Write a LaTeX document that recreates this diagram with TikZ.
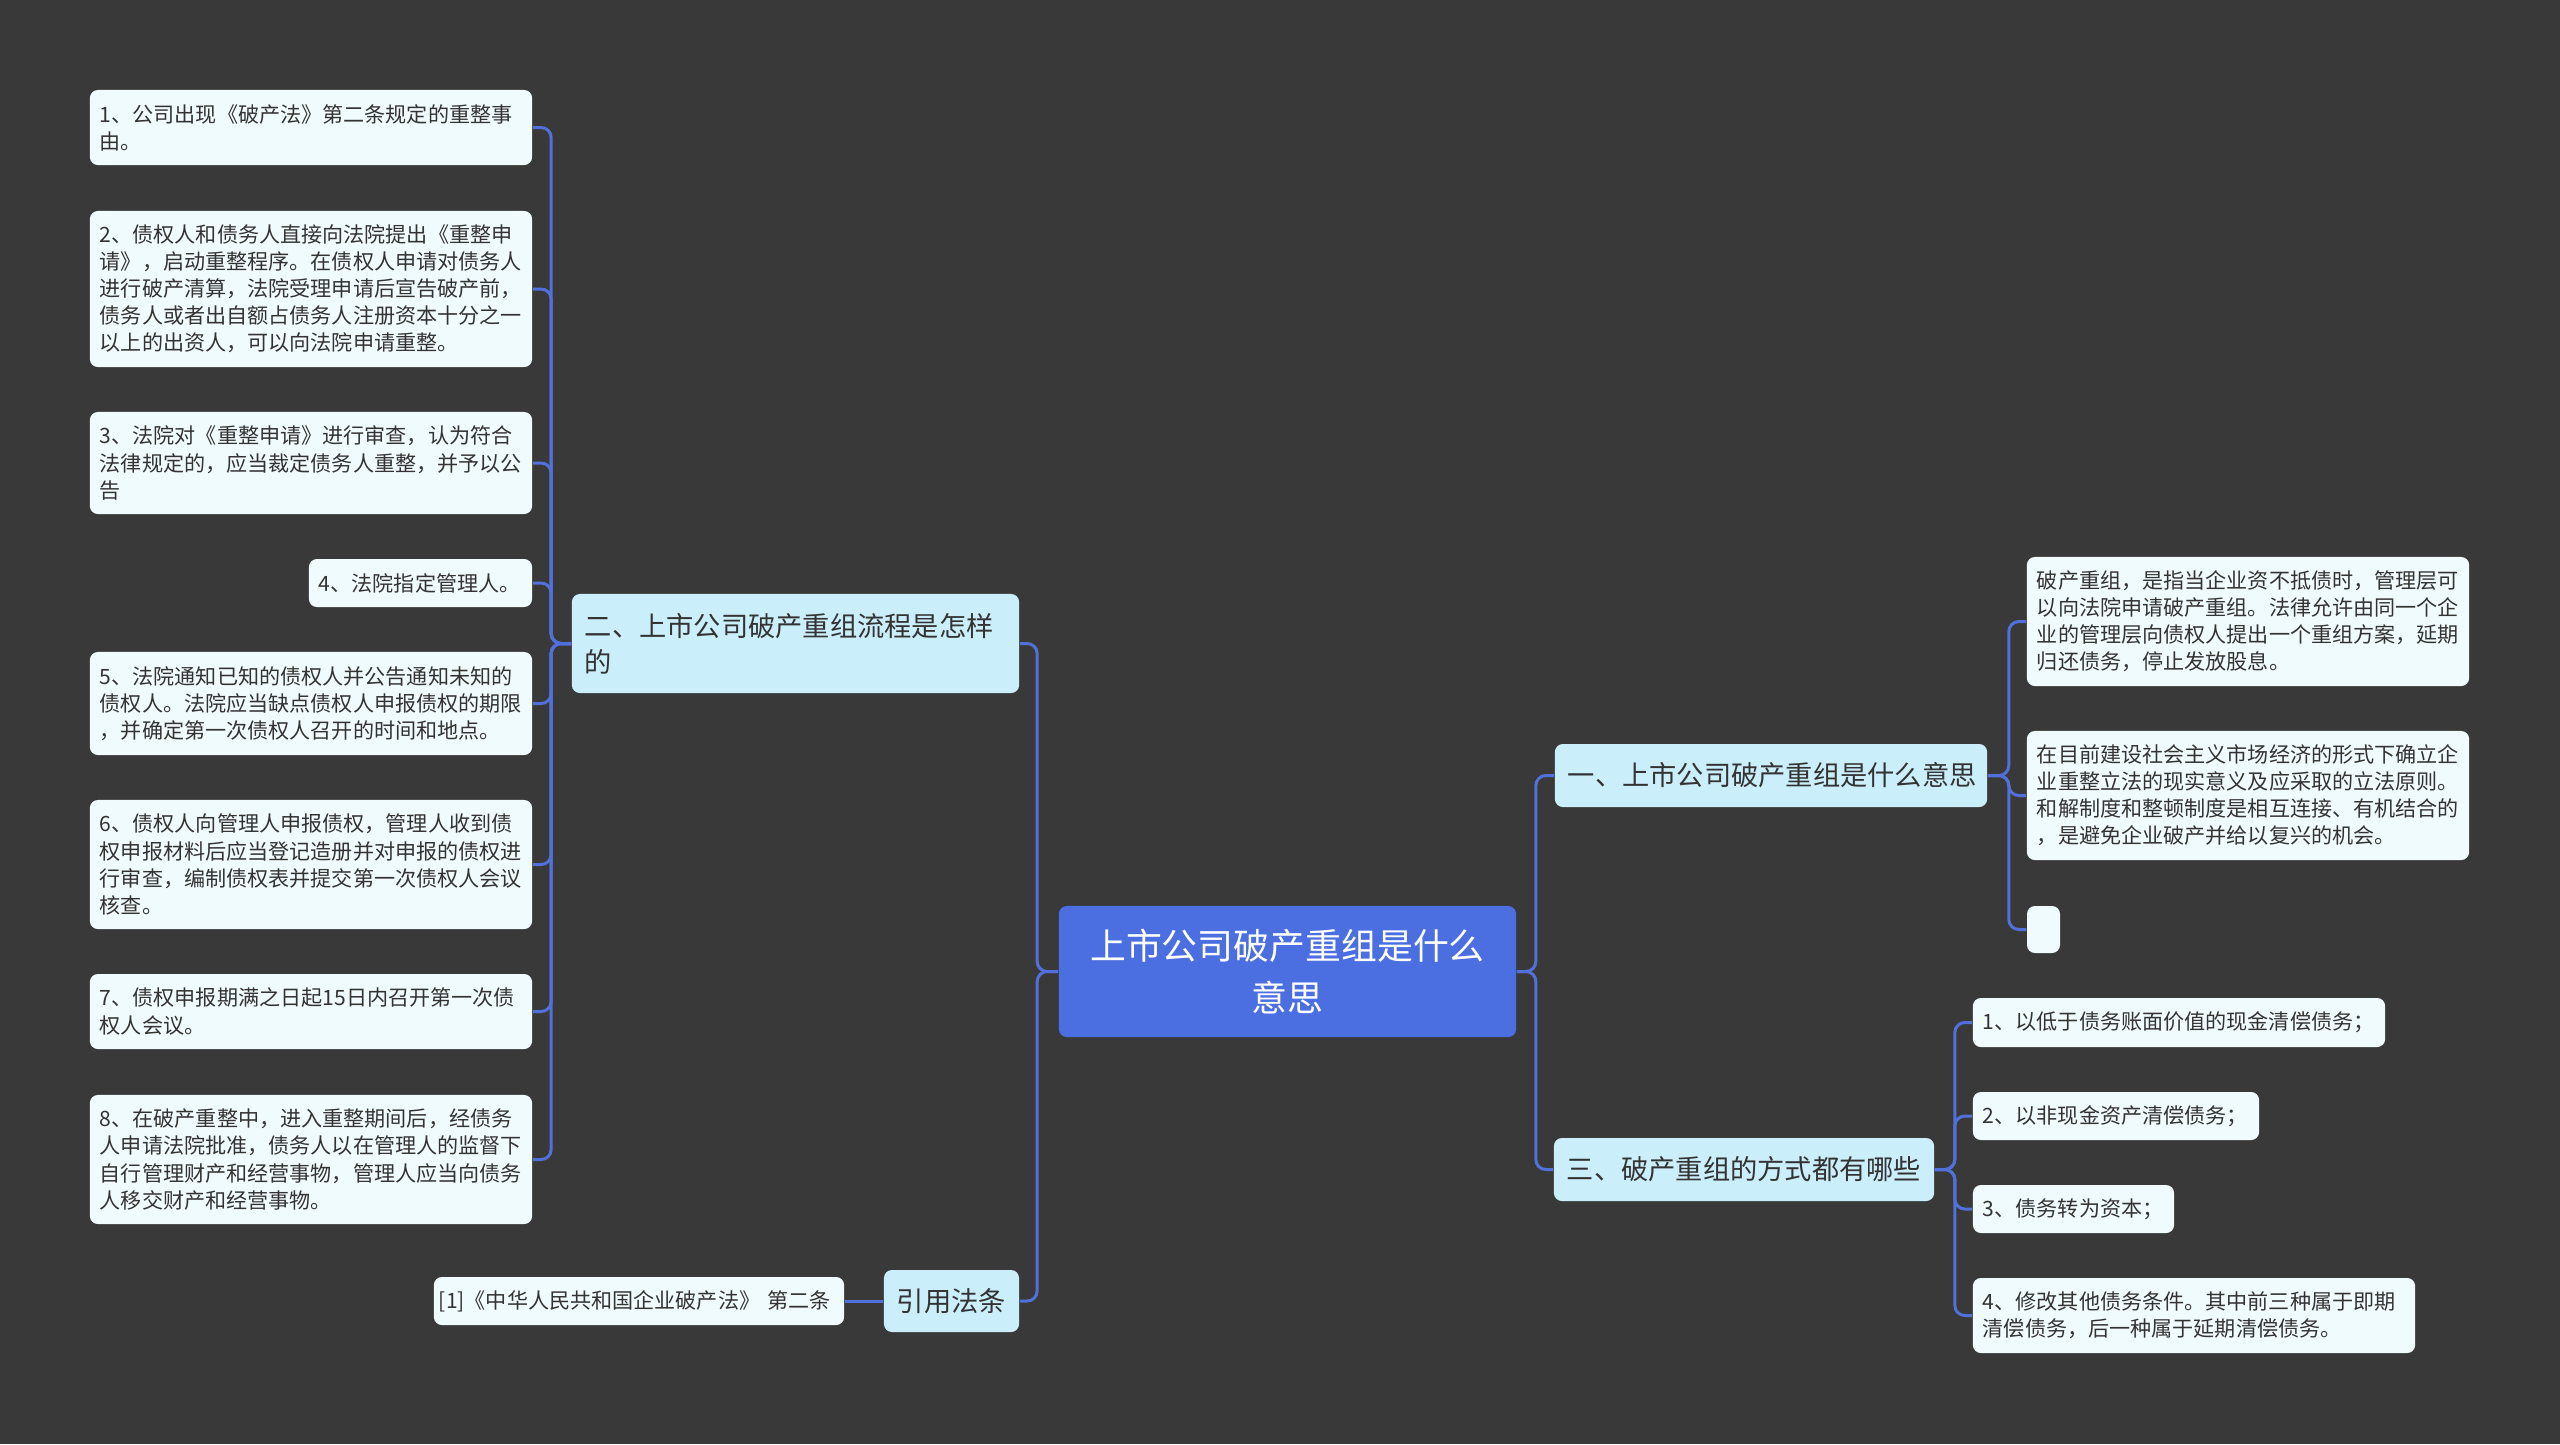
\documentclass[tikz,border=0pt]{standalone}
\usepackage{fontspec}
\newfontfamily\zhfont{Noto Sans CJK SC}
\definecolor{bgcol}{HTML}{393939}
\definecolor{leafcol}{HTML}{F0FBFD}
\definecolor{branchcol}{HTML}{CBEEFB}
\definecolor{topiccol}{HTML}{4B6FE0}
\definecolor{linecol}{HTML}{5170DA}
\definecolor{txtcol}{HTML}{333333}
\tikzset{
  leaf/.style={rectangle, rounded corners=0.8mm, fill=leafcol, text=txtcol, inner xsep=1mm, inner ysep=0.4mm, align=left, font={\zhfont\fontsize{6pt}{7.7pt}\selectfont}},
  branch/.style={rectangle, rounded corners=0.8mm, fill=branchcol, text=txtcol, inner xsep=1.3mm, inner ysep=0.4mm, align=left, font={\zhfont\fontsize{7.75pt}{10.2pt}\selectfont}},
  topic/.style={rectangle, rounded corners=0.8mm, fill=topiccol, text=white, inner sep=1mm, align=center, font={\zhfont\fontsize{10.2pt}{14.8pt}\selectfont}},
  link/.style={draw=linecol, line width=0.3mm, rounded corners=1mm}
}

\begin{document}
\begin{tikzpicture}[x=0.01cm, y=-0.01cm]
                \fill[bgcol] (0,0) rectangle (2560,1444);
                \useasboundingbox (0,0) rectangle (2560,1444);

                \node[topic, minimum width=45.7mm, minimum height=13.1mm] (Topic) at (1287.5,971.5) {上市公司破产重组是什么\\意思};

                \node[branch, text width=42.1mm, minimum height=9.9mm] (Liucheng) at (795.5,643.5) {二、上市公司破产重组流程是怎样\\的};
                \node[branch, text width=10.9mm, minimum height=6.2mm] (Fatiao) at (951.5,1301) {引用法条};
                \node[branch, text width=40.6mm, minimum height=6.3mm] (Yisi) at (1771,775.5) {一、上市公司破产重组是什么意思};
                \node[branch, text width=35.4mm, minimum height=6.3mm] (Fangshi) at (1744,1169.5) {三、破产重组的方式都有哪些};

                \node[leaf, text width=42.2mm, minimum height=7.5mm] (Step 1) at (311,127.5) {1、公司出现《破产法》第二条规定的重整事\\由。};
                \node[leaf, text width=42.2mm, minimum height=15.6mm] (Step 2) at (311,289) {2、债权人和债务人直接向法院提出《重整申\\请》，启动重整程序。在债权人申请对债务人\\进行破产清算，法院受理申请后宣告破产前，\\债务人或者出自额占债务人注册资本十分之一\\以上的出资人，可以向法院申请重整。};
                \node[leaf, text width=42.2mm, minimum height=10.2mm] (Step 3) at (311,463) {3、法院对《重整申请》进行审查，认为符合\\法律规定的，应当裁定债务人重整，并予以公\\告};
                \node[leaf, text width=20.3mm, minimum height=4.8mm] (Step 4) at (420.5,583) {4、法院指定管理人。};
                \node[leaf, text width=42.2mm, minimum height=10.3mm] (Step 5) at (311,703.5) {5、法院通知已知的债权人并公告通知未知的\\债权人。法院应当缺点债权人申报债权的期限\\，并确定第一次债权人召开的时间和地点。};
                \node[leaf, text width=42.2mm, minimum height=12.9mm] (Step 6) at (311,864.5) {6、债权人向管理人申报债权，管理人收到债\\权申报材料后应当登记造册并对申报的债权进\\行审查，编制债权表并提交第一次债权人会议\\核查。};
                \node[leaf, text width=42.2mm, minimum height=7.5mm] (Step 7) at (311,1011.5) {7、债权申报期满之日起15日内召开第一次债\\权人会议。};
                \node[leaf, text width=42.2mm, minimum height=12.9mm] (Step 8) at (311,1159.5) {8、在破产重整中，进入重整期间后，经债务\\人申请法院批准，债务人以在管理人的监督下\\自行管理财产和经营事物，管理人应当向债务\\人移交财产和经营事物。};
                \node[leaf, text width=40mm, inner xsep=0.5mm, minimum height=4.8mm] (Law) at (639,1301) {[1]《中华人民共和国企业破产法》 第二条};

                \node[leaf, text width=42.2mm, minimum height=12.9mm] (Meaning 1) at (2248,621.5) {破产重组，是指当企业资不抵债时，管理层可\\以向法院申请破产重组。法律允许由同一个企\\业的管理层向债权人提出一个重组方案，延期\\归还债务，停止发放股息。};
                \node[leaf, text width=42.2mm, minimum height=12.9mm] (Meaning 2) at (2248,795.5) {在目前建设社会主义市场经济的形式下确立企\\业重整立法的现实意义及应采取的立法原则。\\和解制度和整顿制度是相互连接、有机结合的\\，是避免企业破产并给以复兴的机会。};
                \node[leaf, minimum width=3.3mm, minimum height=4.7mm] (Meaning 3) at (2043.5,929.5) {};

                \node[leaf, text width=39.2mm, minimum height=4.9mm] (Way 1) at (2179,1022.5) {1、以低于债务账面价值的现金清偿债务；};
                \node[leaf, text width=26.6mm, minimum height=4.8mm] (Way 2) at (2116,1116) {2、以非现金资产清偿债务；};
                \node[leaf, text width=18.1mm, minimum height=4.8mm] (Way 3) at (2073.5,1209) {3、债务转为资本；};
                \node[leaf, text width=42.2mm, minimum height=7.5mm] (Way 4) at (2194,1315.5) {4、修改其他债务条件。其中前三种属于即期\\清偿债务，后一种属于延期清偿债务。};

                \draw[link] (Topic.west) -- ++(-21,0) |- (Liucheng.east);
                \draw[link] (Topic.west) -- ++(-21,0) |- (Fatiao.east);
                \draw[link] (Topic.east) -- ++(19,0) |- (Yisi.west);
                \draw[link] (Topic.east) -- ++(19,0) |- (Fangshi.west);

                \foreach \n in {1,...,8}
                    \draw[link] (Liucheng.west) -- ++(-20,0) |- (Step \n.east);
                \draw[link] (Fatiao.west) -- (Law.east);

                \foreach \n in {1,2,3}
                    \draw[link] (Yisi.east) -- ++(21,0) |- (Meaning \n.west);
                \foreach \n in {1,...,4}
                    \draw[link] (Fangshi.east) -- ++(20,0) |- (Way \n.west);

            \end{tikzpicture}
\end{document}
